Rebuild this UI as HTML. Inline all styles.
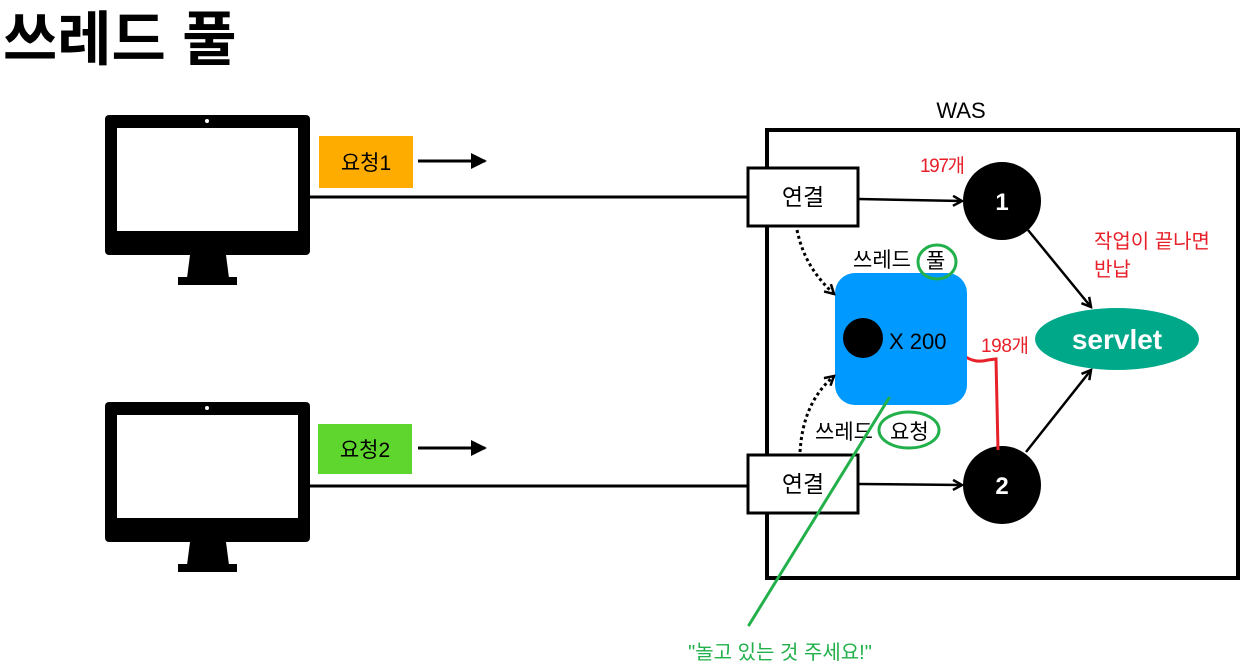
<!DOCTYPE html>
<html><head><meta charset="utf-8"><style>
html,body{margin:0;padding:0;background:#fff;width:1247px;height:669px;overflow:hidden}
svg{display:block}
text{font-family:"Liberation Sans","Noto Sans CJK KR",sans-serif}
</style></head><body>
<svg width="1247" height="669" viewBox="0 0 1247 669" xmlns="http://www.w3.org/2000/svg">
<defs>
<marker id="ah" markerWidth="12" markerHeight="12" refX="10" refY="6" orient="auto" markerUnits="userSpaceOnUse">
<path d="M1,1 L10,6 L1,11" fill="none" stroke="#000" stroke-width="2.5"/>
</marker>
<marker id="fa" markerWidth="20" markerHeight="20" refX="16" refY="10" orient="auto" markerUnits="userSpaceOnUse">
<path d="M2,2 L18,10 L2,18 Z" fill="#000"/>
</marker>
</defs>
<text x="3" y="60" font-size="59" font-weight="bold" fill="#000">쓰레드 풀</text>

<g>
<rect x="105" y="115" width="205" height="140" rx="4" fill="#000"/>
<rect x="117" y="128" width="181" height="103" fill="#fff"/>
<circle cx="207" cy="121" r="2" fill="#fff"/>
<path d="M190,255 L226,255 L229,278 L187,278 Z" fill="#000"/>
<rect x="178" y="277" width="59" height="8" fill="#000"/>
</g>
<g transform="translate(0,287)">
<rect x="105" y="115" width="205" height="140" rx="4" fill="#000"/>
<rect x="117" y="128" width="181" height="103" fill="#fff"/>
<circle cx="207" cy="121" r="2" fill="#fff"/>
<path d="M190,255 L226,255 L229,278 L187,278 Z" fill="#000"/>
<rect x="178" y="277" width="59" height="8" fill="#000"/>
</g>

<rect x="319" y="136" width="94" height="52" fill="#ffac00"/>
<text x="366" y="170" font-size="21" text-anchor="middle">요청1</text>
<line x1="418" y1="161" x2="485" y2="161" stroke="#000" stroke-width="3" marker-end="url(#fa)"/>
<rect x="318" y="424" width="94" height="50" fill="#5fd62e"/>
<text x="365" y="457" font-size="21" text-anchor="middle">요청2</text>
<line x1="418" y1="448" x2="485" y2="448" stroke="#000" stroke-width="3" marker-end="url(#fa)"/>

<line x1="309" y1="197" x2="748" y2="197" stroke="#000" stroke-width="3"/>
<line x1="309" y1="486" x2="748" y2="486" stroke="#000" stroke-width="3"/>

<text x="961" y="118" font-size="22" text-anchor="middle">WAS</text>
<rect x="767" y="130" width="471" height="448" fill="none" stroke="#000" stroke-width="4"/>

<rect x="748" y="168" width="110" height="58" fill="#fff" stroke="#000" stroke-width="3"/>
<text x="803" y="205" font-size="23" text-anchor="middle">연결</text>
<rect x="748" y="455" width="110" height="58" fill="#fff" stroke="#000" stroke-width="3"/>
<text x="803" y="492" font-size="23" text-anchor="middle">연결</text>

<line x1="858" y1="199" x2="962" y2="201" stroke="#000" stroke-width="2.5" marker-end="url(#ah)"/>
<line x1="858" y1="484" x2="962" y2="485" stroke="#000" stroke-width="2.5" marker-end="url(#ah)"/>

<circle cx="1002" cy="201" r="39" fill="#000"/>
<text x="1002" y="210" font-size="24" font-weight="bold" fill="#fff" text-anchor="middle">1</text>
<circle cx="1002" cy="485" r="39" fill="#000"/>
<text x="1002" y="494" font-size="24" font-weight="bold" fill="#fff" text-anchor="middle">2</text>

<line x1="1028" y1="230" x2="1091" y2="307" stroke="#000" stroke-width="2.5" marker-end="url(#ah)"/>
<line x1="1026" y1="452" x2="1091" y2="370" stroke="#000" stroke-width="2.5" marker-end="url(#ah)"/>

<ellipse cx="1117" cy="339" rx="82" ry="31" fill="#00a88a"/>
<text x="1117" y="349" font-size="28" font-weight="bold" fill="#fff" text-anchor="middle">servlet</text>

<text x="920" y="172" font-size="19" fill="#e8202a" textLength="45">197개</text>
<text x="1094" y="248" font-size="20" fill="#e8202a">작업이 끝나면</text>
<text x="1094" y="276" font-size="20" fill="#e8202a">반납</text>
<text x="981" y="352" font-size="19" fill="#e8202a" textLength="48">198개</text>
<path d="M963,355 C972,362 980,362 988,360 L996,359 L998,450" fill="none" stroke="#e8202a" stroke-width="3"/>

<rect x="835" y="273" width="132" height="132" rx="20" fill="#0099ff"/>
<circle cx="863" cy="338" r="20" fill="#000"/>
<text x="889" y="349" font-size="22" fill="#000">X 200</text>

<text x="853" y="267" font-size="21">쓰레드</text>
<text x="926" y="268" font-size="21">풀</text>
<ellipse cx="937" cy="262" rx="19" ry="17" fill="none" stroke="#22b04b" stroke-width="3"/>
<text x="815" y="439" font-size="21">쓰레드</text>
<text x="890" y="439" font-size="21">요청</text>
<ellipse cx="909" cy="430" rx="30" ry="18" fill="none" stroke="#22b04b" stroke-width="3"/>

<path d="M797,230 C803,258 815,276 834,294" fill="none" stroke="#000" stroke-width="3" stroke-dasharray="3,3" marker-end="url(#ah)"/>
<path d="M800,452 C802,420 812,395 834,376" fill="none" stroke="#000" stroke-width="3" stroke-dasharray="3,3" marker-end="url(#ah)"/>

<line x1="889" y1="398" x2="749" y2="625" stroke="#22b04b" stroke-width="3" stroke-linecap="round"/>
<text x="780" y="659" font-size="20" fill="#22b04b" text-anchor="middle">"놀고 있는 것 주세요!"</text>
</svg>
</body></html>
